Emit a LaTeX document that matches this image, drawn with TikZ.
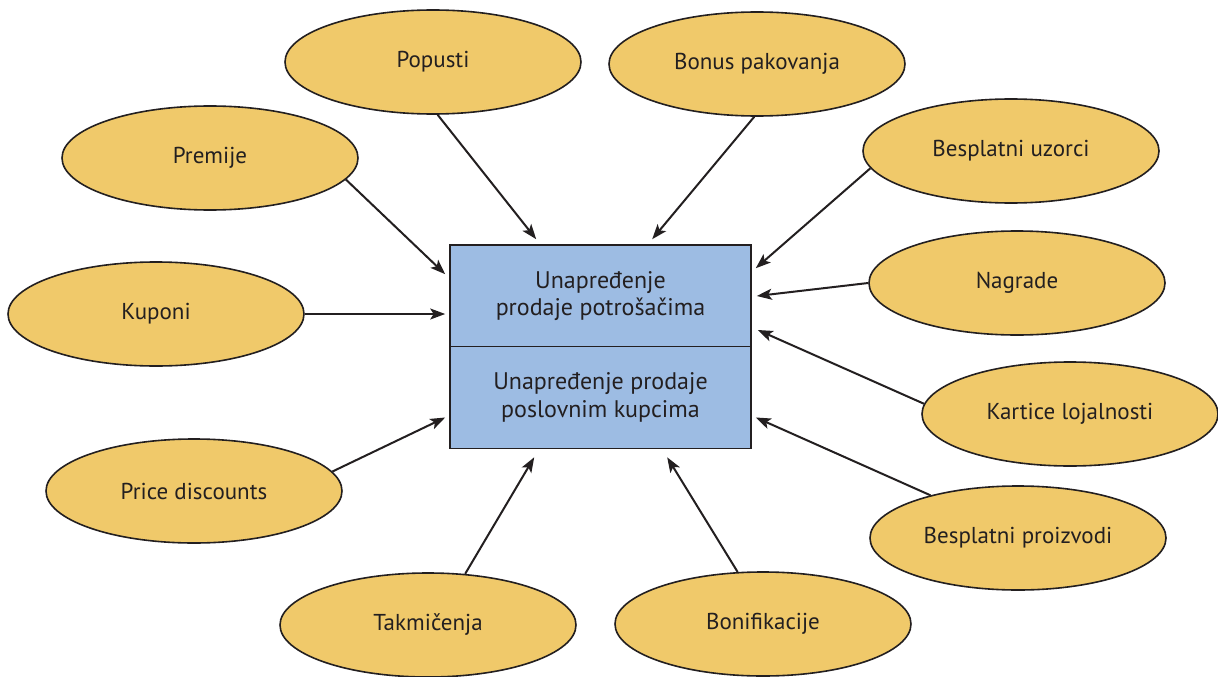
\documentclass[tikz,border=0pt]{standalone}
\usepackage{fontspec}
\setmainfont{PT Sans}
\usetikzlibrary{arrows.meta,shapes.geometric}
\definecolor{ovalfill}{HTML}{F0C96A}
\definecolor{boxfill}{HTML}{9DBCE3}
\definecolor{ink}{HTML}{231F20}
\begin{document}
\begin{tikzpicture}[x=1pt,y=-1pt,
  oval/.style={ellipse,draw=ink,line width=1.6pt,fill=ovalfill,minimum width=296pt,minimum height=104pt,inner sep=0pt,font=\fontsize{23}{27}\selectfont,text=ink},
  part/.style={rectangle,draw=ink,line width=1.6pt,fill=boxfill,minimum width=301pt,minimum height=102pt,inner sep=0pt,align=center,font=\fontsize{24}{27.5}\selectfont,text=ink},
  arr/.style={-{Stealth[length=15pt,width=11pt,inset=3.5pt]},line width=2pt,draw=ink}]
\useasboundingbox (0,0) rectangle (1218,677);
\fill[white] (0,0) rectangle (1218,677);
% central box
\node[part] (boxT) at (600.5,296) {Unapređenje\\prodaje potrošačima};
\node[part] (boxB) at (600.5,397.5) {Unapređenje prodaje\\poslovnim kupcima};
% ovals
\node[oval] (pop) at (433,62) {Popusti};
\node[oval] (bon) at (757,64) {Bonus pakovanja};
\node[oval] (pre) at (210,158) {Premije};
\node[oval] (kup) at (156,314) {Kuponi};
\node[oval] (pri) at (194,491) {Price discounts};
\node[oval] (tak) at (428,625) {Takmičenja};
\node[oval] (bfk) at (763,624) {Bonifikacije};
\node[oval] (buz) at (1011,151) {Besplatni uzorci};
\node[oval] (nag) at (1017,283) {Nagrade};
\node[oval] (kar) at (1070,414) {Kartice lojalnosti};
\node[oval] (bpr) at (1018,538) {Besplatni proizvodi};
% arrows
\draw[arr] (pop.275) -- ([xshift=87pt,yshift=5pt]boxT.north west);
\draw[arr] (bon.267) -- ([xshift=203pt,yshift=5pt]boxT.north west);
\draw[arr] (pre.351) -- ([xshift=-4pt,yshift=-30pt]boxT.north west);
\draw[arr] (kup.0) -- ([xshift=-4pt,yshift=-18pt]boxT.west);
\draw[arr] (pri.8) -- ([xshift=-4pt,yshift=-20pt]boxB.west);
\draw[arr] (tak.54) -- ([xshift=85pt,yshift=-8pt]boxB.south west);
\draw[arr] (bfk.116) -- ([xshift=218pt,yshift=-8pt]boxB.south west);
\draw[arr] (buz.187.6) -- ([xshift=4pt,yshift=-24pt]boxT.north east);
\draw[arr] (nag.180) -- ([xshift=5pt]boxT.east);
\draw[arr] (kar.176.5) -- ([xshift=6pt,yshift=-34pt]boxT.east);
\draw[arr] (bpr.154) -- ([xshift=4pt,yshift=-20pt]boxB.east);
\end{tikzpicture}
\end{document}
